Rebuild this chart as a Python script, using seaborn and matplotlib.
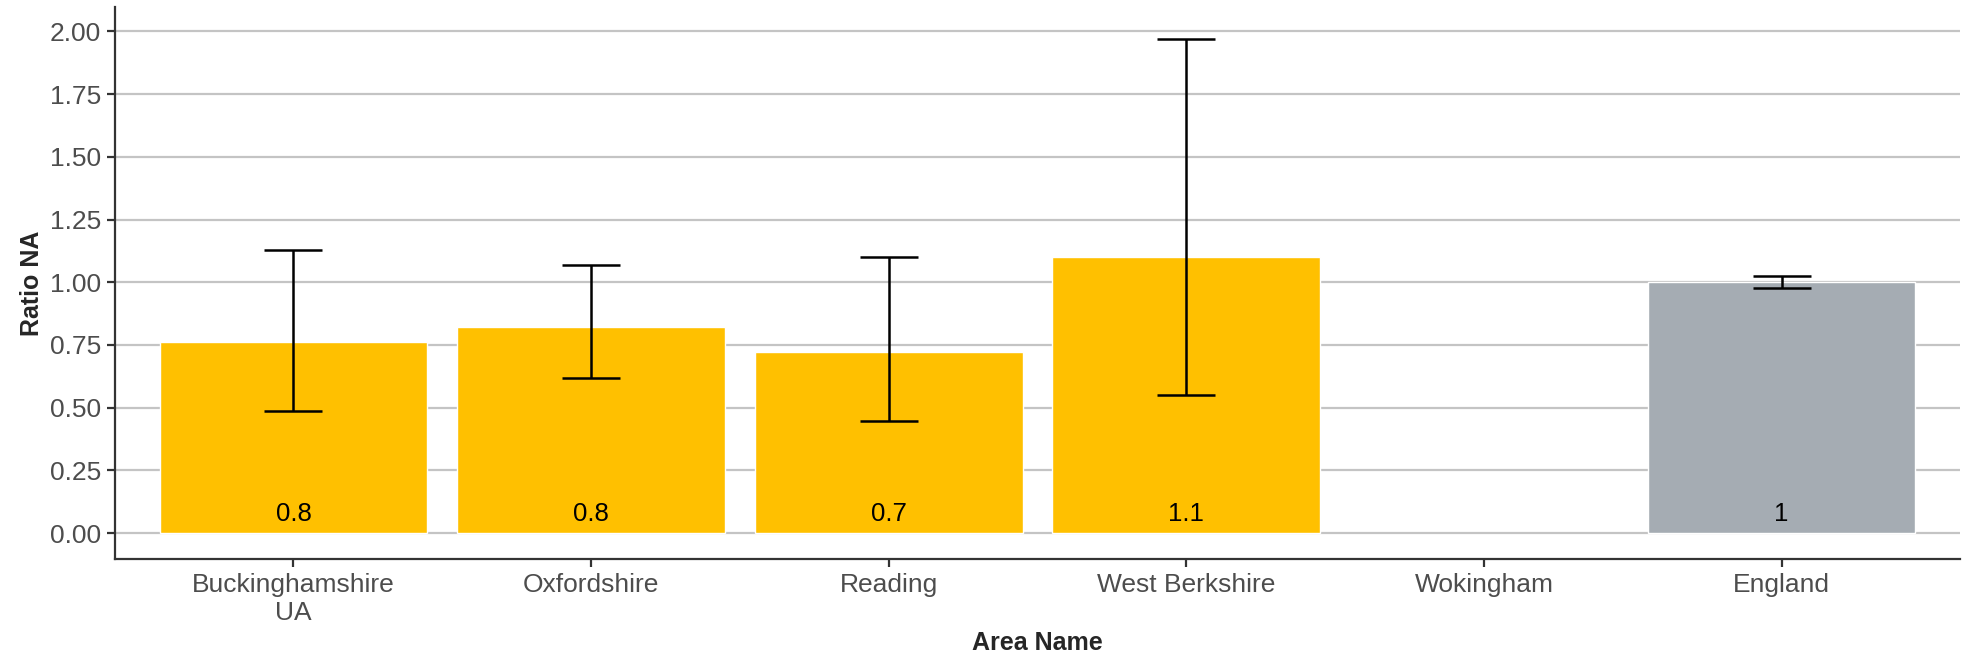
import numpy as np
import pandas as pd
import matplotlib
matplotlib.use("Agg")
import matplotlib.pyplot as plt
import seaborn as sns
from matplotlib import font_manager

# data
areas = ["Buckinghamshire\nUA", "Oxfordshire", "Reading", "West Berkshire", "Wokingham", "England"]
ratio = [0.76, 0.82, 0.72, 1.10, np.nan, 1.00]
lower_ci = [0.485, 0.62, 0.445, 0.55, np.nan, 0.976]
upper_ci = [1.13, 1.07, 1.10, 1.968, np.nan, 1.026]
bar_labels = ["0.8", "0.8", "0.7", "1.1", "", "1"]
bar_colours = ["#FFC000", "#FFC000", "#FFC000", "#FFC000", "#FFC000", "#A5ACB3"]

df = pd.DataFrame({"area": areas, "ratio": ratio, "lower": lower_ci, "upper": upper_ci})

sns.set_style("white")
names = {f.name for f in font_manager.fontManager.ttflist}
narrow = "Liberation Sans Narrow" if "Liberation Sans Narrow" in names else "Liberation Sans"
plt.rcParams['font.family'] = ['Liberation Sans', 'DejaVu Sans']

fig = plt.figure(figsize=(19.68, 6.58), dpi=100)
ax = fig.add_axes([0.0584, 0.1505, 0.9376, 0.8385])

sns.barplot(data=df, x="area", y="ratio", hue="area", order=areas, hue_order=areas,
            palette=dict(zip(areas, bar_colours)), width=0.9, errorbar=None,
            legend=False, saturation=1, ax=ax, zorder=2)

# error bars
pos = np.arange(len(areas))
mask = ~df["ratio"].isna().values
ax.errorbar(pos[mask], df["ratio"][mask],
            yerr=[df["ratio"][mask] - df["lower"][mask], df["upper"][mask] - df["ratio"][mask]],
            fmt="none", ecolor="black", elinewidth=1.8, capsize=21, capthick=1.8, zorder=3)

# value labels near the base of each bar
for i, lab in enumerate(bar_labels):
    if lab:
        ax.text(i, 0.03, lab, ha="center", va="bottom", fontsize=18.5,
                family=[narrow, 'DejaVu Sans'], color="black", zorder=4)

ax.set_xlim(-0.6, 5.6)
ax.set_ylim(-0.103, 2.096)
ax.set_yticks([0, 0.25, 0.5, 0.75, 1.0, 1.25, 1.5, 1.75, 2.0])
ax.set_yticklabels([f"{v:.2f}" for v in ax.get_yticks()])
ax.yaxis.grid(True, color="#C4C4C4", linewidth=1.6, zorder=0)
ax.set_axisbelow(True)

for s in ["top", "right"]:
    ax.spines[s].set_visible(False)
for s in ["left", "bottom"]:
    ax.spines[s].set_color("#333333")
    ax.spines[s].set_linewidth(1.6)

ax.tick_params(axis="both", which="major", length=6, width=1.6, color="#333333",
               labelsize=19, labelcolor="#4D4D4D", left=True, bottom=True, pad=4)
ax.set_xlabel("Area Name", fontsize=18, fontweight="bold", family=[narrow, 'DejaVu Sans'])
ax.xaxis.label.set_va("center")
ax.xaxis.set_label_coords(0.5, -0.152)
ax.set_ylabel("Ratio NA", fontsize=18, fontweight="bold", family=[narrow, 'DejaVu Sans'], labelpad=4)

fig.savefig("out.png", dpi=100, facecolor="white")
